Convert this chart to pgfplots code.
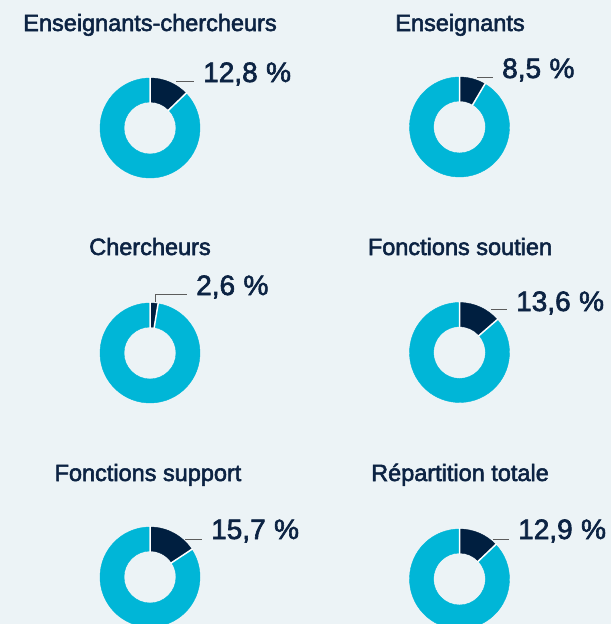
\documentclass[border=0pt]{standalone}
\usepackage{pgfplots}
\pgfplotsset{compat=1.18}
\usepackage{pgfplotstable}
\usepackage{fontspec}
\setmainfont{Liberation Sans}
\newfontfamily\titlefont[FakeBold=2.3]{Liberation Sans}
\newfontfamily\labfontfam[FakeBold=2.2]{Liberation Sans}
\newcommand\labfont{\labfontfam\fontsize{28}{32}\selectfont}
\definecolor{bg}{HTML}{ECF3F6}
\definecolor{navy}{HTML}{001F40}
\definecolor{cyanc}{HTML}{00B6D7}
\definecolor{txt}{HTML}{0C2343}
\definecolor{lead}{HTML}{5C5C5C}
\pgfdeclareplotmark{nothing}{}

% cx cy : donut centre (px from top-left), v : share in %,
% lx ly : label left/baseline, sx sy -> xa ya : leader line
\pgfplotstableread{
cx    cy    v     lx   ly   sx   sy   xa   ya
150   128   12.8  203  82   176  81   176  81
459.5 127   8.5   502  78   477  77   477  77
150   353   2.6   196  295  155  302  155  294
459.5 352.5 13.6  516  311  491  309  491  309
150   577   15.7  211  539  185  539  185  539
459.5 579   12.9  518  539  493  539  493  539
}\donuts

\begin{document}
\begin{tikzpicture}
\fill[bg] (0,0) rectangle (611pt,624pt);
\begin{axis}[
  at={(0,0)}, anchor=south west,
  width=611pt, height=624pt, scale only axis,
  xmin=0, xmax=611, ymin=0, ymax=624, y dir=reverse,
  hide axis,
  clip marker paths=true,
]
\addplot[scatter, only marks, mark=nothing,
  visualization depends on={\thisrow{v}\as\dV},
  visualization depends on={\thisrow{cx}\as\dCX},
  visualization depends on={\thisrow{cy}\as\dCY},
  visualization depends on={\thisrow{lx}\as\dLX},
  visualization depends on={\thisrow{ly}\as\dLY},
  visualization depends on={\thisrow{sx}\as\dSX},
  visualization depends on={\thisrow{sy}\as\dSY},
  visualization depends on={\thisrow{xa}\as\dXA},
  visualization depends on={\thisrow{ya}\as\dYA},
  scatter/@pre marker code/.code={%
    \pgfmathsetmacro\dAng{90-3.6*\dV}%
    \fill[cyanc] (\dAng:50pt) arc[start angle=\dAng, end angle=-270, radius=50pt]
       -- (-270:26pt) arc[start angle=-270, end angle=\dAng, radius=26pt] -- cycle;
    \fill[navy] (90:50pt) arc[start angle=90, end angle=\dAng, radius=50pt]
       -- (\dAng:26pt) arc[start angle=\dAng, end angle=90, radius=26pt] -- cycle;
    \draw[white, line width=1.5pt] (90:25pt) -- (90:51pt) (\dAng:25pt) -- (\dAng:51pt);
    \pgfmathsetmacro\dAX{\dSX-\dCX}\pgfmathsetmacro\dAY{\dCY-\dSY}%
    \pgfmathsetmacro\dBX{\dXA-\dCX}\pgfmathsetmacro\dBY{\dCY-\dYA}%
    \pgfmathsetmacro\dEX{\dLX-9-\dCX}%
    \draw[lead, line width=0.9pt] (\dAX pt,\dAY pt) -- (\dBX pt,\dBY pt) -- (\dEX pt,\dBY pt);
    \pgfmathsetmacro\dTX{\dLX-\dCX}\pgfmathsetmacro\dTY{\dCY-\dLY}%
    \node[anchor=base west, inner sep=0pt, text=txt, font=\labfont] at (\dTX pt,\dTY pt)
      {\pgfmathprintnumber[fixed,fixed zerofill,precision=1,use comma,assume math mode=true]{\dV}\hspace{0.3em}\%};
  },
  scatter/@post marker code/.code={},
] table[x=cx, y=cy] {\donuts};

\tikzset{ttl/.style={anchor=base, inner sep=0pt, text=txt, font=\titlefont\fontsize{23.5}{27}\selectfont}}
\node[ttl] at (axis cs:150,31) {Enseignants-chercheurs};
\node[ttl] at (axis cs:460,31) {Enseignants};
\node[ttl] at (axis cs:150,255) {Chercheurs};
\node[ttl] at (axis cs:460,255) {Fonctions soutien};
\node[ttl] at (axis cs:148,481) {Fonctions support};
\node[ttl] at (axis cs:460,481) {Répartition totale};
\end{axis}
\pgfresetboundingbox
\path[use as bounding box] (0,0) rectangle (611pt,624pt);
\end{tikzpicture}
\end{document}
